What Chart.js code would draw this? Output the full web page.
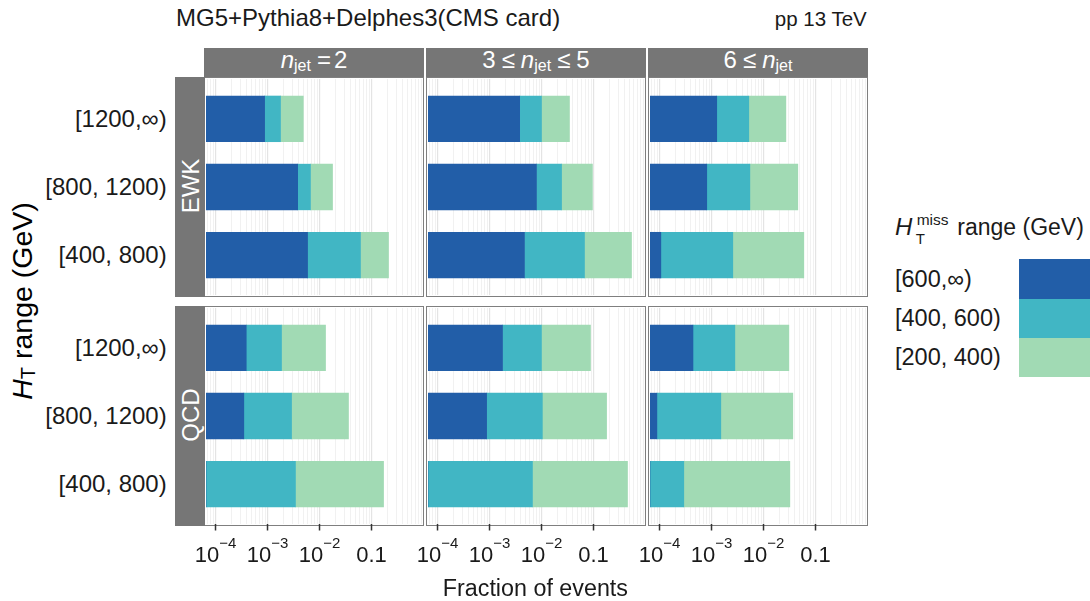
<!DOCTYPE html>
<html>
<head>
<meta charset="utf-8">
<script src="https://cdn.jsdelivr.net/npm/chart.js@4.4.1/dist/chart.umd.min.js"></script>
<style>
  body { margin: 0; background: #fff; }
  #fig { position: relative; width: 1090px; height: 601px; overflow: hidden;
         font-family: "Liberation Sans", Arial, sans-serif; color: #1a1a1a; }
  .t { position: absolute; white-space: nowrap; }
  .box { position: absolute; box-sizing: border-box; border: 1.5px solid #7f7f7f; background: #fff; }
  .strip { position: absolute; background: #767676; }
  .sub { font-size: 16px; position: relative; top: 3.5px; line-height: 0; }
  canvas { position: absolute; }
</style>
</head>
<body>
<div id="fig"></div>
<script>
const htRanges = ["[1200,∞)", "[800, 1200)", "[400, 800)"];
const metRanges = ["[600,∞)", "[400, 600)", "[200, 400)"];
const metColors = ["#225ea8", "#41b6c4", "#a1dab4"];
const processes = ["EWK", "QCD"];
const njetBins = [
  '<i>n</i><span class="sub">jet</span><span style="margin-left:6px">=</span><span style="margin-left:3px">2</span>',
  '3<span style="margin:0 6px">≤</span><i>n</i><span class="sub">jet</span><span style="margin:0 6px">≤</span>5',
  '6<span style="margin:0 6px">≤</span><i>n</i><span class="sub">jet</span>'
];
const tickValues = [1e-4, 1e-3, 1e-2, 0.1];
const tickLabels = [["10", "−4"], ["10", "−3"], ["10", "−2"], ["0.1", ""]];

// fraction of events, one value per HT range (order of htRanges)
const ewkNj2Met600 = [8.8e-4, 3.8e-3, 5.9e-3];
const ewkNj2Met400 = [9.0e-4, 2.9e-3, 5.55e-2];
const ewkNj2Met200 = [3.1e-3, 1.11e-2, 0.151];
const ewkNj35Met600 = [3.8e-3, 8.0e-3, 4.7e-3];
const ewkNj35Met400 = [6.2e-3, 1.63e-2, 6.24e-2];
const ewkNj35Met200 = [2.45e-2, 7.1e-2, 0.471];
const ewkNj6Met600 = [1.26e-3, 8.1e-4, 1.06e-4];
const ewkNj6Met400 = [3.95e-3, 4.65e-3, 2.46e-3];
const ewkNj6Met200 = [2.17e-2, 4.02e-2, 5.7e-2];
const qcdNj2Met600 = [3.9e-4, 3.5e-4, 0];
const qcdNj2Met400 = [1.47e-3, 2.55e-3, 3.45e-3];
const qcdNj2Met200 = [1.12e-2, 3.32e-2, 0.167];
const qcdNj35Met600 = [1.78e-3, 8.8e-4, 0];
const qcdNj35Met400 = [8.2e-3, 9.5e-3, 6.7e-3];
const qcdNj35Met200 = [7.75e-2, 0.168, 0.444];
const qcdNj6Met600 = [4.4e-4, 8.9e-5, 0];
const qcdNj6Met400 = [2.37e-3, 1.42e-3, 2.93e-4];
const qcdNj6Met200 = [2.79e-2, 3.51e-2, 3.18e-2];

const panels = [
  [[ewkNj2Met600, ewkNj2Met400, ewkNj2Met200],
   [ewkNj35Met600, ewkNj35Met400, ewkNj35Met200],
   [ewkNj6Met600, ewkNj6Met400, ewkNj6Met200]],
  [[qcdNj2Met600, qcdNj2Met400, qcdNj2Met200],
   [qcdNj35Met600, qcdNj35Met400, qcdNj35Met200],
   [qcdNj6Met600, qcdNj6Met400, qcdNj6Met200]]
];

// layout
const colLeft = [204, 426, 648];
const rowTop = [77, 306];
const boxSize = 220;
const inner = 216;
const side = 24; // extra canvas room for tick labels
const xMin = Math.pow(10, -4.183);
const xMax = Math.pow(10, -0.029);

const fig = document.getElementById("fig");

function addText(html, x, base, size, align, style) {
  const d = document.createElement("div");
  d.className = "t";
  d.innerHTML = html;
  d.style.fontSize = size + "px";
  d.style.lineHeight = size + "px";
  d.style.top = (base - 0.8465 * size) + "px";
  if (align === "right") {
    d.style.right = (1090 - x) + "px";
  } else if (align === "center") {
    d.style.left = x + "px";
    d.style.transform = "translateX(-50%)";
  } else {
    d.style.left = x + "px";
  }
  if (style) d.style.cssText += style;
  fig.appendChild(d);
  return d;
}

function addRotated(html, cx, cy, size, style) {
  const d = document.createElement("div");
  d.className = "t";
  d.innerHTML = html;
  d.style.fontSize = size + "px";
  d.style.lineHeight = size + "px";
  d.style.left = cx + "px";
  d.style.top = cy + "px";
  d.style.transform = "translate(-50%,-50%) rotate(-90deg)";
  if (style) d.style.cssText += style;
  fig.appendChild(d);
  return d;
}

function addRect(cls, x, y, w, h, color) {
  const d = document.createElement("div");
  d.className = cls;
  d.style.left = x + "px";
  d.style.top = y + "px";
  d.style.width = w + "px";
  d.style.height = h + "px";
  if (color) d.style.background = color;
  fig.appendChild(d);
  return d;
}

// grid lines at 1..9 x 10^k
const gridValues = [];
for (let e = -5; e <= 0; e++) {
  for (let m = 1; m <= 9; m++) {
    const v = m * Math.pow(10, e);
    if (v >= xMin && v <= xMax) gridValues.push(v);
  }
}
function isDecade(v) {
  const l = Math.log10(v);
  return Math.abs(l - Math.round(l)) < 1e-9;
}

const xTickPlugin = {
  id: "xTickLabels",
  afterDraw(chart) {
    const ctx = chart.ctx;
    const xs = chart.scales.x;
    const y0 = chart.chartArea.bottom;
    ctx.save();
    ctx.fillStyle = "#1a1a1a";
    ctx.strokeStyle = "#333333";
    ctx.lineWidth = 1.5;
    tickValues.forEach((v, i) => {
      const px = xs.getPixelForValue(v);
      ctx.beginPath();
      ctx.moveTo(px, y0);
      ctx.lineTo(px, y0 + 6.5);
      ctx.stroke();
      const base = tickLabels[i][0];
      const sup = tickLabels[i][1];
      ctx.font = "22px 'Liberation Sans'";
      const wb = ctx.measureText(base).width;
      ctx.font = "15px 'Liberation Sans'";
      const ws = sup ? ctx.measureText(sup).width : 0;
      const left = px - (wb + ws) / 2;
      ctx.font = "22px 'Liberation Sans'";
      ctx.fillText(base, left, y0 + 37.7);
      if (sup) {
        ctx.font = "15px 'Liberation Sans'";
        ctx.fillText(sup, left + wb, y0 + 24);
      }
    });
    ctx.restore();
  }
};

// title
addText("MG5+Pythia8+Delphes3(CMS card)", 176, 26.7, 24);
addText("pp 13 TeV", 866.7, 26.7, 20.5, "right");

// strips on top
njetBins.forEach((lab, c) => {
  addRect("strip", colLeft[c], 48, boxSize, 29);
  addText(lab, colLeft[c] + boxSize / 2, 68.3, 24, "center", "color:#fff;");
});

processes.forEach((proc, r) => {
  panels[r].forEach((vals, c) => {
    addRect("box", colLeft[c], rowTop[r], boxSize, boxSize);
  });
  addRect("strip", 175, rowTop[r], 30, boxSize);
  addRotated(proc, 191, rowTop[r] + boxSize / 2 - 1, 24, "color:#fff;");

  panels[r].forEach((vals, c) => {
    const bottomRow = r === processes.length - 1;
    const cv = document.createElement("canvas");
    const w = inner + (bottomRow ? 2 * side : 0);
    const h = inner + (bottomRow ? 44 : 0);
    cv.width = w;
    cv.height = h;
    cv.style.width = w + "px";
    cv.style.height = h + "px";
    cv.style.left = (colLeft[c] + 2 - (bottomRow ? side : 0)) + "px";
    cv.style.top = (rowTop[r] + 2) + "px";
    fig.appendChild(cv);

    const chart = new Chart(cv, {
      type: "bar",
      data: {
        datasets: metRanges.map((m, k) => ({
          label: m,
          data: vals[k].map((v, i) => ({ x: v, y: i })),
          backgroundColor: metColors[k],
          borderWidth: 0,
          barThickness: 45.7
        }))
      },
      options: {
        indexAxis: "y",
        responsive: false,
        animation: false,
        devicePixelRatio: 1,
        layout: { padding: { left: bottomRow ? side : 0, right: bottomRow ? side : 0, top: 0, bottom: 0 } },
        plugins: { legend: { display: false }, tooltip: { enabled: false } },
        scales: {
          x: {
            type: "logarithmic",
            stacked: true,
            min: xMin,
            max: xMax,
            afterBuildTicks: (scale) => {
              scale.ticks = gridValues.map(v => ({ value: v }));
            },
            afterFit: (scale) => {
              scale.height = bottomRow ? 44 : 0;
            },
            ticks: { display: false, autoSkip: false },
            border: { display: false },
            grid: {
              drawTicks: false,
              color: (ctx) => ctx.tick && isDecade(ctx.tick.value) ? "#e4e4e4" : "#eeeeee",
              lineWidth: (ctx) => ctx.tick && isDecade(ctx.tick.value) ? 1.2 : 0.8
            }
          },
          y: {
            type: "linear",
            stacked: true,
            reverse: true,
            offset: false,
            min: -0.585,
            max: 2.585,
            display: false
          }
        }
      },
      plugins: bottomRow ? [xTickPlugin] : []
    });

    if (c === 0) {
      htRanges.forEach((lab, i) => {
        const cy = rowTop[r] + 2 + chart.scales.y.getPixelForValue(i);
        addText(lab, 166.7, cy + 8.6, 24, "right");
      });
    }
  });
});

// axis titles
addText("Fraction of events", 535.4, 596.7, 23.3, "center");
addRotated('<i>H</i><span style="font-size:20px;position:relative;top:3px;line-height:0">T</span> range (GeV)',
  21.8, 300.5, 28.5, "color:#000;");

// legend
addText("<i>H</i>", 895, 235, 24);
addText("miss", 916.7, 225, 15.5);
addText("T", 915.7, 243.3, 15);
addText("range (GeV)", 957.3, 235, 23);
metRanges.forEach((lab, k) => {
  const top = 259.3 + k * 39.35;
  addRect("t", 1019, top, 71, 39.35, metColors[k]);
  addText(lab, 895, top + 19.7 + 8.4, 23.5);
});
</script>
</body>
</html>
